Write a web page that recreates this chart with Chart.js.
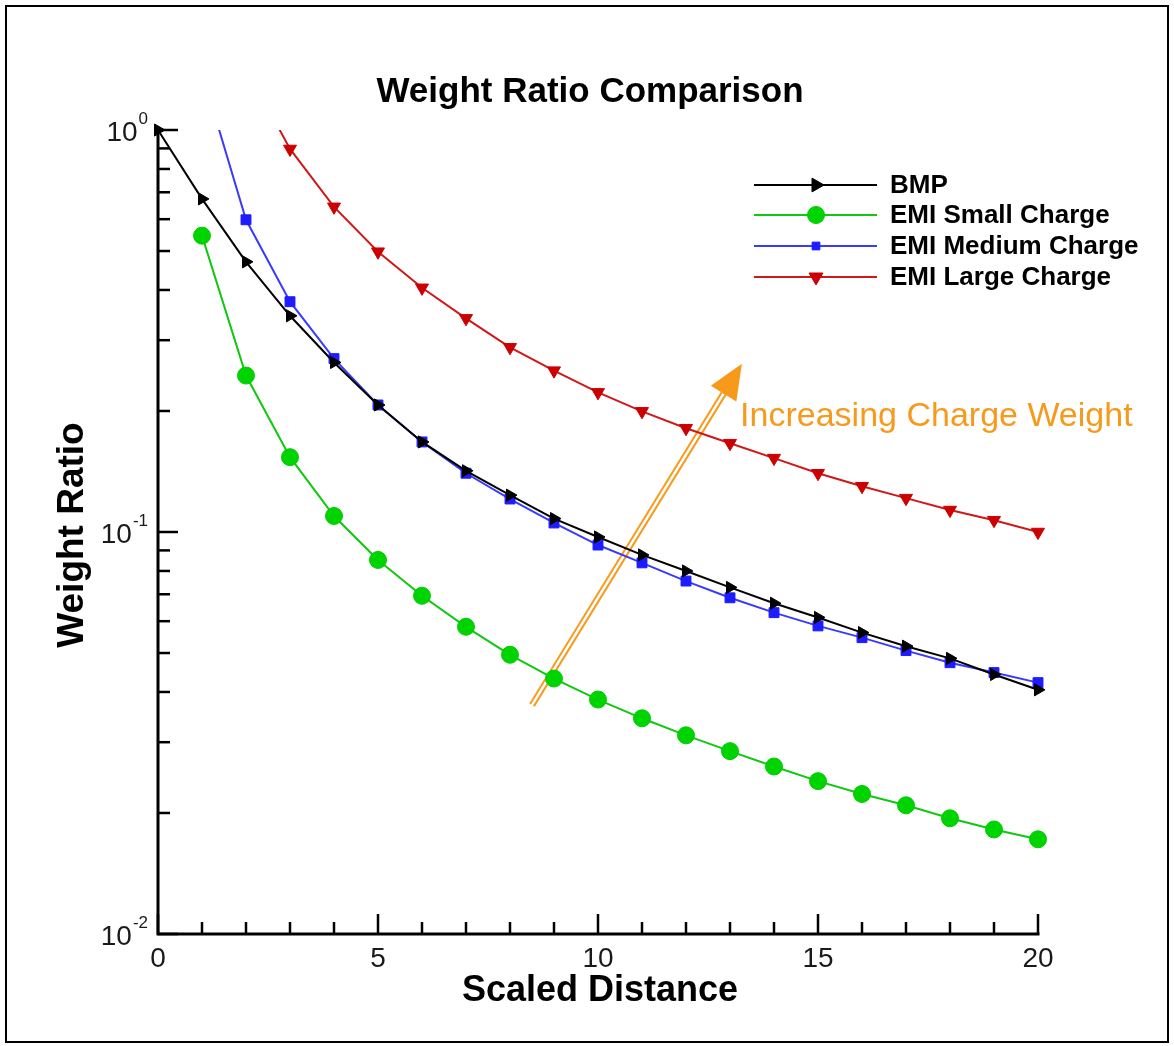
<!DOCTYPE html>
<html>
<head>
<meta charset="utf-8">
<title>Weight Ratio Comparison</title>
<style>
  html, body { margin: 0; padding: 0; background: #fff; }
  canvas { display: block; }
</style>
<script src="https://cdn.jsdelivr.net/npm/chart.js@4.4.1/dist/chart.umd.min.js"></script>
</head>
<body>
<canvas id="chart" width="1174" height="1046"></canvas>
<script>
// Scaled distance (x) and weight ratio (y) for each charge model
const scaledDistance = [0, 1, 2, 3, 4, 5, 6, 7, 8, 9, 10, 11, 12, 13, 14, 15, 16, 17, 18, 19, 20];
const bmp       = [1.0, 0.674, 0.470, 0.345, 0.264, 0.207, 0.1675, 0.142, 0.1235, 0.108, 0.0972, 0.0877, 0.080, 0.0728, 0.0665, 0.0613, 0.0562, 0.0520, 0.0485, 0.0442, 0.0405];
const emiSmall  = [null, 0.546, 0.245, 0.1535, 0.1096, 0.0852, 0.0694, 0.0581, 0.0495, 0.0432, 0.0383, 0.0344, 0.0312, 0.0285, 0.0261, 0.0240, 0.0223, 0.0209, 0.0194, 0.0182, 0.0172];
const emiMedium = [null, 1.39, 0.598, 0.374, 0.270, 0.207, 0.1675, 0.140, 0.1208, 0.1053, 0.0928, 0.0838, 0.0755, 0.0686, 0.0630, 0.0584, 0.0546, 0.0507, 0.0473, 0.0447, 0.0422];
const emiLarge  = [null, null, 1.43, 0.897, 0.644, 0.498, 0.405, 0.340, 0.288, 0.252, 0.2225, 0.1996, 0.1812, 0.1663, 0.1527, 0.140, 0.130, 0.1214, 0.1134, 0.107, 0.100];

const seriesNames = ['BMP', 'EMI Small Charge', 'EMI Medium Charge', 'EMI Large Charge'];

// Axis ticks
const xMajorTicks = [0, 5, 10, 15, 20];
const yMajorTicks = [0.01, 0.1, 1];
const yTickExponents = ['-2', '-1', '0'];

// Text
const chartTitle = 'Weight Ratio Comparison';
const xTitle = 'Scaled Distance';
const yTitle = 'Weight Ratio';
const noteText = 'Increasing Charge Weight';

// Annotation arrow, in data coordinates [distance, ratio]
const arrowTail = [8.5, 0.0371];
const arrowTip = [13.27, 0.262];
const noteAnchor = [13.23, 0.195];

const ORANGE = '#f79a1c';
const FONT = '"Liberation Sans", Arial, Helvetica, sans-serif';

const toPoints = vals => scaledDistance
  .map((x, i) => ({ x: x, y: vals[i] }))
  .filter(p => p.y !== null);

const edgeClip = { left: 12, top: 0, right: 12, bottom: 12 };

const datasets = [
  { label: seriesNames[0], data: toPoints(bmp), borderColor: '#000', backgroundColor: '#000',
    pointBorderColor: '#000', pointBackgroundColor: '#000',
    pointStyle: 'triangle', pointRotation: 90, pointRadius: 7, legendRadius: 8, clip: false },
  { label: seriesNames[1], data: toPoints(emiSmall), borderColor: '#10c810', backgroundColor: '#00d000',
    pointBorderColor: '#00cc00', pointBackgroundColor: '#00d400',
    pointStyle: 'circle', pointRadius: 8.5, legendRadius: 8.5, clip: edgeClip },
  { label: seriesNames[2], data: toPoints(emiMedium), borderColor: '#3a3aff', backgroundColor: '#1c1cff',
    pointBorderColor: '#1c1cff', pointBackgroundColor: '#1c1cff',
    pointStyle: 'rect', pointRadius: 7, legendRadius: 5.5, clip: edgeClip },
  { label: seriesNames[3], data: toPoints(emiLarge), borderColor: '#d01818', backgroundColor: '#cc0000',
    pointBorderColor: '#cc0000', pointBackgroundColor: '#cc0000',
    pointStyle: 'triangle', pointRotation: 180, pointRadius: 7.5, legendRadius: 8, clip: edgeClip }
].map(d => Object.assign({ borderWidth: 2, pointBorderWidth: 1, tension: 0, fill: false, pointHoverRadius: d.pointRadius }, d));

function drawPoint(ctx, style, radius, rotation, x, y) {
  if (Chart.helpers && Chart.helpers.drawPoint) {
    Chart.helpers.drawPoint(ctx, { pointStyle: style, radius: radius, rotation: rotation, borderWidth: 1 }, x, y);
  }
}

// Frame, axes, ticks, titles, annotation and legend
const decorations = {
  id: 'decorations',
  beforeDraw(chart) {
    const ctx = chart.ctx;
    ctx.save();
    ctx.fillStyle = '#fff';
    ctx.fillRect(0, 0, chart.width, chart.height);
    ctx.strokeStyle = '#000';
    ctx.lineWidth = 2;
    ctx.strokeRect(6, 6, chart.width - 12, chart.height - 10);
    ctx.restore();
  },
  beforeDatasetsDraw(chart) {
    const ctx = chart.ctx;
    const xs = chart.scales.x, ys = chart.scales.y;
    const a = chart.chartArea;
    ctx.save();

    // Axis lines
    ctx.strokeStyle = '#000';
    ctx.lineWidth = 3;
    ctx.lineCap = 'square';
    ctx.beginPath();
    ctx.moveTo(a.left, a.top);
    ctx.lineTo(a.left, a.bottom);
    ctx.lineTo(a.right, a.bottom);
    ctx.stroke();

    // x ticks (inward)
    ctx.lineWidth = 2.5;
    ctx.lineCap = 'butt';
    for (let v = 0; v <= 20; v++) {
      const px = xs.getPixelForValue(v);
      const len = xMajorTicks.includes(v) ? 20 : 12;
      ctx.beginPath();
      ctx.moveTo(px, a.bottom);
      ctx.lineTo(px, a.bottom - len);
      ctx.stroke();
    }
    // y ticks (inward), decades and minors
    yMajorTicks.forEach(v => {
      const py = ys.getPixelForValue(v);
      ctx.beginPath();
      ctx.moveTo(a.left, py);
      ctx.lineTo(a.left + 20, py);
      ctx.stroke();
    });
    [0.01, 0.1].forEach(dec => {
      for (let m = 2; m <= 9; m++) {
        const py = ys.getPixelForValue(m * dec);
        ctx.beginPath();
        ctx.moveTo(a.left, py);
        ctx.lineTo(a.left + 12, py);
        ctx.stroke();
      }
    });

    // x tick labels
    ctx.fillStyle = '#1a1a1a';
    ctx.font = '28px ' + FONT;
    ctx.textAlign = 'center';
    ctx.textBaseline = 'middle';
    xMajorTicks.forEach(v => {
      ctx.fillText(String(v), xs.getPixelForValue(v), a.bottom + 25);
    });

    // y tick labels: 10 with superscript exponent
    yMajorTicks.forEach((v, i) => {
      const py = ys.getPixelForValue(v);
      const exp = yTickExponents[i];
      ctx.font = '17px ' + FONT;
      const ew = ctx.measureText(exp).width;
      const right = a.left - 10;
      ctx.textAlign = 'left';
      ctx.textBaseline = 'middle';
      ctx.fillText(exp, right - ew, py - 11);
      ctx.font = '28px ' + FONT;
      ctx.textAlign = 'right';
      ctx.fillText('10', right - ew - 1, py + 3);
    });

    // Title and axis titles
    ctx.fillStyle = '#000';
    ctx.textAlign = 'center';
    ctx.textBaseline = 'middle';
    ctx.font = 'bold 35px ' + FONT;
    ctx.fillText(chartTitle, 590, 92);
    ctx.font = 'bold 36px ' + FONT;
    ctx.fillText(xTitle, (a.left + a.right) / 2 + 2, 991);
    ctx.save();
    ctx.translate(73, (a.top + a.bottom) / 2 + 3);
    ctx.rotate(-Math.PI / 2);
    ctx.font = 'bold 37px ' + FONT;
    ctx.fillText(yTitle, 0, 0);
    ctx.restore();

    // Annotation arrow (hollow double-line shaft with solid head)
    const p0 = { x: xs.getPixelForValue(arrowTail[0]), y: ys.getPixelForValue(arrowTail[1]) };
    const p1 = { x: xs.getPixelForValue(arrowTip[0]), y: ys.getPixelForValue(arrowTip[1]) };
    const dx = p1.x - p0.x, dy = p1.y - p0.y;
    const len = Math.hypot(dx, dy);
    const ux = dx / len, uy = dy / len;
    const nx = -uy, ny = ux;
    const headLen = 35, headHalf = 15;
    const bx = p1.x - ux * headLen, by = p1.y - uy * headLen;
    ctx.lineCap = 'butt';
    ctx.strokeStyle = ORANGE;
    ctx.lineWidth = 6.5;
    ctx.beginPath();
    ctx.moveTo(p0.x, p0.y);
    ctx.lineTo(bx + ux * 2, by + uy * 2);
    ctx.stroke();
    ctx.strokeStyle = '#fff';
    ctx.lineWidth = 2.5;
    ctx.beginPath();
    ctx.moveTo(p0.x - ux * 1, p0.y - uy * 1);
    ctx.lineTo(bx, by);
    ctx.stroke();
    ctx.fillStyle = ORANGE;
    ctx.beginPath();
    ctx.moveTo(p1.x, p1.y);
    ctx.lineTo(bx + nx * headHalf, by + ny * headHalf);
    ctx.lineTo(bx - nx * headHalf, by - ny * headHalf);
    ctx.closePath();
    ctx.fill();

    // Annotation text
    ctx.font = '34px ' + FONT;
    ctx.textAlign = 'left';
    ctx.textBaseline = 'middle';
    ctx.fillText(noteText, xs.getPixelForValue(noteAnchor[0]), ys.getPixelForValue(noteAnchor[1]) + 1);

    ctx.restore();
  },
  afterDatasetsDraw(chart) {
    const ctx = chart.ctx;
    ctx.save();
    const rowY = [185, 215, 246, 277];
    chart.data.datasets.forEach((ds, i) => {
      const y = rowY[i];
      ctx.strokeStyle = ds.borderColor;
      ctx.lineWidth = 2;
      ctx.beginPath();
      ctx.moveTo(754, y);
      ctx.lineTo(877, y);
      ctx.stroke();
      ctx.fillStyle = ds.pointBackgroundColor;
      ctx.strokeStyle = ds.pointBorderColor;
      ctx.lineWidth = 1;
      drawPoint(ctx, ds.pointStyle, ds.legendRadius, ds.pointRotation || 0, 816, y);
      ctx.fillStyle = '#000';
      ctx.font = 'bold 26px ' + FONT;
      ctx.textAlign = 'left';
      ctx.textBaseline = 'middle';
      ctx.fillText(ds.label, 890, y + 1);
    });
    ctx.restore();
  }
};

new Chart(document.getElementById('chart'), {
  type: 'line',
  data: { datasets: datasets },
  options: {
    responsive: false,
    animation: false,
    devicePixelRatio: 1,
    layout: { padding: { left: 158, top: 130, right: 136, bottom: 112 } },
    scales: {
      x: { type: 'linear', min: 0, max: 20, display: false },
      y: { type: 'logarithmic', min: 0.01, max: 1, display: false }
    },
    plugins: {
      legend: { display: false },
      title: { display: false },
      tooltip: { enabled: false }
    }
  },
  plugins: [decorations]
});
</script>
</body>
</html>
